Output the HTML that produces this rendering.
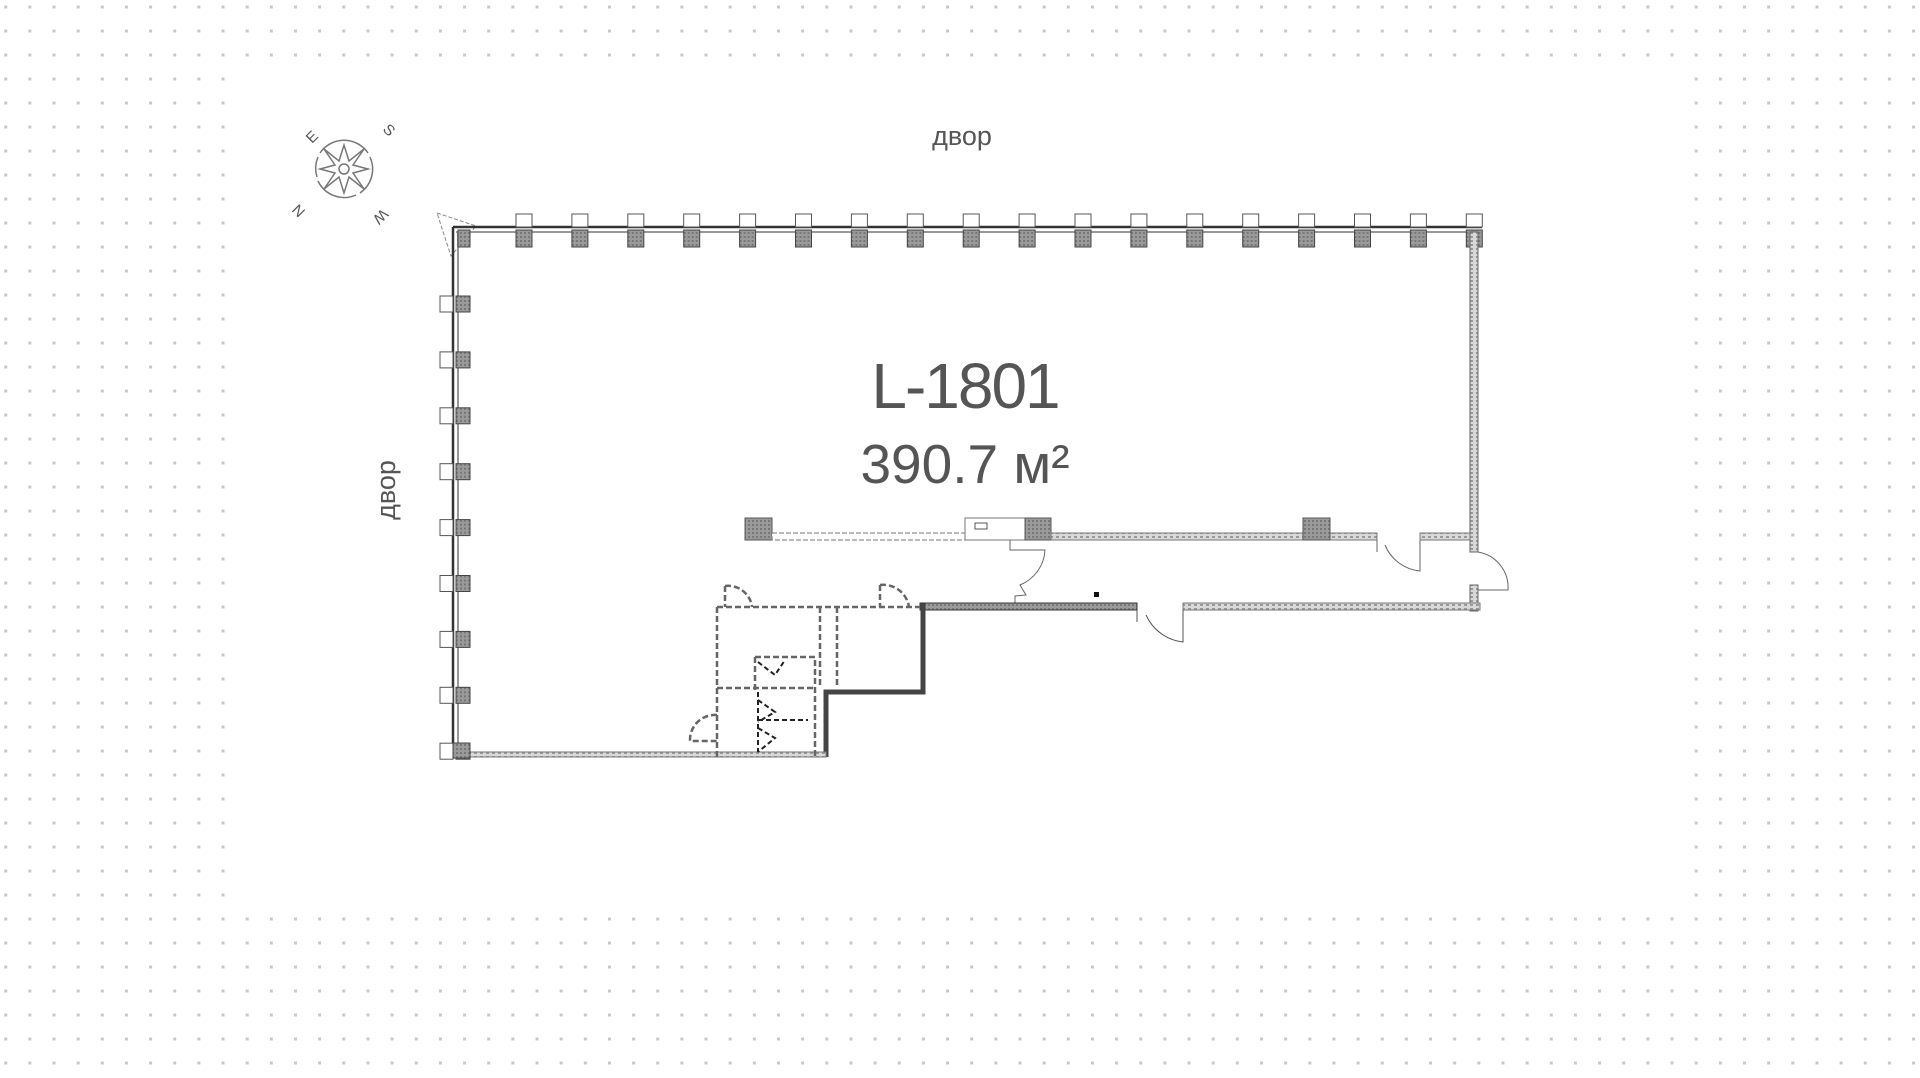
<!DOCTYPE html>
<html><head><meta charset="utf-8"><style>
html,body{margin:0;padding:0;background:#fff;width:1920px;height:1078px;overflow:hidden}
svg{display:block}
text{font-family:"Liberation Sans",sans-serif;fill:#555}
</style></head><body>
<svg width="1920" height="1078" viewBox="0 0 1920 1078" xmlns="http://www.w3.org/2000/svg">
<defs>
<pattern id="dots" x="4.2" y="5.5" width="24.15" height="24" patternUnits="userSpaceOnUse">
<rect x="0" y="0" width="3" height="3" fill="#c8c8c8"/></pattern>
<pattern id="hatch" width="4" height="4" patternUnits="userSpaceOnUse">
<rect width="4" height="4" fill="#9a9a9a"/><rect width="2" height="2" fill="#777"/></pattern>
<pattern id="light" width="6" height="4" patternUnits="userSpaceOnUse">
<rect width="6" height="4" fill="#d8d8d8"/><rect width="3" height="2" fill="#999"/></pattern>
</defs>
<rect x="0" y="0" width="1920" height="65" fill="url(#dots)"/>
<rect x="0" y="65" width="228" height="850" fill="url(#dots)"/>
<rect x="1693" y="65" width="227" height="850" fill="url(#dots)"/>
<rect x="0" y="915" width="1920" height="163" fill="url(#dots)"/>

<text x="962" y="145" font-size="27" text-anchor="middle" fill="#666">двор</text>
<text x="0" y="0" font-size="27" text-anchor="middle" fill="#666" transform="translate(395,490) rotate(-90)">двор</text>
<text x="965" y="408" font-size="64" text-anchor="middle" letter-spacing="-2" fill="#666">L-1801</text>
<text x="965" y="483" font-size="55" text-anchor="middle" fill="#666">390.7 м²</text>

<g transform="translate(344,169)" stroke="#777" fill="none" stroke-width="1.5">
<path d="M-24,-16 A29,29 0 0 1 24,-16"/><path d="M26,-12 A29,29 0 0 1 16,24"/>
<path d="M12,26 A29,29 0 0 1 -26,12"/><path d="M-27,8 A29,29 0 0 1 -26,-12"/>
<path d="M0,-24 L5,-8 L20,-20 L9,-4 L24,0 L9,4 L20,20 L5,8 L0,24 L-5,8 L-20,20 L-9,4 L-24,0 L-9,-4 L-20,-20 L-5,-8 Z"/>
<circle r="5"/>
</g>
<text font-size="15" fill="#777" transform="translate(312,144) rotate(-45)">E</text>
<text font-size="15" fill="#777" transform="translate(382,130) rotate(45)">S</text>
<text font-size="15" fill="#777" transform="translate(306,211) rotate(-135)">N</text>
<text font-size="15" fill="#777" transform="translate(382,208) rotate(135)">W</text>

<g fill="none" stroke="#333">
<path d="M437,213 L476,226 L451,256 Z" stroke="#888" stroke-dasharray="4,2" stroke-width="1"/>
<line x1="453" y1="227" x2="1482" y2="227" stroke-width="2.5"/>
<line x1="456" y1="232" x2="1482" y2="232" stroke="#999" stroke-width="2"/>
<line x1="453" y1="227" x2="453" y2="757" stroke-width="2.5"/>
<line x1="458" y1="232" x2="458" y2="757" stroke="#999" stroke-width="2"/>
</g>
<g id="tc">
<rect x="516" y="214" width="16" height="13" fill="#fff" stroke="#555"/>
<rect x="516" y="230" width="16" height="17" fill="url(#hatch)" stroke="#444"/>
</g>
<use href="#tc" x="55.9"/><use href="#tc" x="111.8"/><use href="#tc" x="167.7"/><use href="#tc" x="223.6"/>
<use href="#tc" x="279.5"/><use href="#tc" x="335.4"/><use href="#tc" x="391.3"/><use href="#tc" x="447.2"/>
<use href="#tc" x="503.1"/><use href="#tc" x="559"/><use href="#tc" x="614.9"/><use href="#tc" x="670.8"/>
<use href="#tc" x="726.7"/><use href="#tc" x="782.6"/><use href="#tc" x="838.5"/><use href="#tc" x="894.4"/>
<use href="#tc" x="950.3"/>
<rect x="458" y="230" width="12" height="17" fill="url(#hatch)" stroke="#444"/>
<g id="lc">
<rect x="440" y="296" width="13" height="16" fill="#fff" stroke="#555"/>
<rect x="456" y="296" width="14" height="16" fill="url(#hatch)" stroke="#444"/>
</g>
<use href="#lc" y="55.9"/><use href="#lc" y="111.8"/><use href="#lc" y="167.7"/><use href="#lc" y="223.6"/>
<use href="#lc" y="279.5"/><use href="#lc" y="335.4"/><use href="#lc" y="391.3"/><use href="#lc" y="447.2"/>

<rect x="1470" y="232" width="8" height="320" fill="url(#light)" stroke="#666"/>
<rect x="1470" y="585" width="8" height="26" fill="url(#light)" stroke="#666"/>
<path d="M1478,552 A36,36 0 0 1 1508,590 L1478,590" fill="none" stroke="#666"/>

<rect x="745" y="518" width="27" height="22" fill="url(#hatch)" stroke="#555"/>
<rect x="772" y="533" width="193" height="7" fill="#fff" stroke="#777" stroke-dasharray="5,2"/>
<rect x="965" y="518" width="60" height="22" fill="#fff" stroke="#777"/>
<rect x="975" y="523" width="12" height="6" fill="#fff" stroke="#555"/>
<rect x="1025" y="518" width="26" height="22" fill="url(#hatch)" stroke="#555"/>
<rect x="1051" y="533" width="326" height="7" fill="url(#light)" stroke="#777"/>
<rect x="1303" y="518" width="27" height="22" fill="url(#hatch)" stroke="#555"/>
<rect x="1420" y="533" width="50" height="7" fill="url(#light)" stroke="#777"/>
<path d="M1377,540 L1377,552 M1420,540 L1420,571 A42,42 0 0 1 1385,545" fill="none" stroke="#666"/>
<path d="M1010,540 L1010,550 L1045,550 A40,40 0 0 1 1020,585 L1026,595 L1015,596 L1015,606" fill="none" stroke="#666"/>

<rect x="920" y="603" width="217" height="7" fill="url(#hatch)" stroke="#333"/>
<rect x="1183" y="603" width="297" height="7" fill="url(#light)" stroke="#777"/>
<path d="M1137,610 L1137,622 M1183,610 L1183,642 A46,46 0 0 1 1146,615" fill="none" stroke="#555"/>
<rect x="1094" y="592" width="5" height="5" fill="#111"/>

<path d="M920,606 L923,606 L923,692 L826,692 L826,757" fill="none" stroke="#444" stroke-width="5"/>
<rect x="458" y="752" width="368" height="5" fill="url(#light)" stroke="#777"/>
<rect x="453" y="743" width="17" height="15" fill="url(#hatch)" stroke="#444"/>

<g fill="none" stroke="#666" stroke-width="2.5" stroke-dasharray="6,3">
<path d="M717,607 L920,607"/>
<path d="M717,607 L717,757"/>
<path d="M820,607 L820,686"/><path d="M837,607 L837,686"/>
<path d="M717,688 L815,688"/>
<path d="M755,657 L815,657 L815,757"/>
<path d="M755,657 L755,690"/>
<path d="M725,586 L725,607 M725,586 A24,24 0 0 1 752,607"/>
<path d="M880,585 L880,607 M880,585 A26,26 0 0 1 909,607"/>
<path d="M717,715 A25,25 0 0 0 690,741 L717,741"/>
</g>
<g fill="none" stroke="#222" stroke-width="2" stroke-dasharray="5,3">
<path d="M758,692 L758,752"/><path d="M758,720 L808,720"/>
<path d="M758,700 L775,712 L758,722 M758,728 L775,738 L758,752"/>
<path d="M758,662 L775,675 L785,660"/>
</g>
</svg>
</body></html>
